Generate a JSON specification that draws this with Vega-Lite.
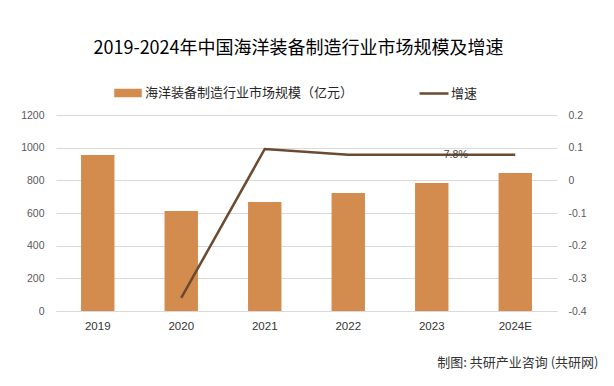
{
  "$schema": "https://vega.github.io/schema/vega-lite/v6.json",
  "width": 501,
  "height": 196,
  "autosize": "none",
  "padding": {"left": 56, "top": 115, "right": 57, "bottom": 75},
  "background": "white",
  "config": {"view": {"stroke": null}, "font": "Liberation Sans"},
  "title": {
    "text": "2019-2024年中国海洋装备制造行业市场规模及增速",
    "font": "Noto Sans CJK SC",
    "fontSize": 18,
    "fontWeight": "normal",
    "color": "#000000",
    "anchor": "middle",
    "dx": -8,
    "offset": 21
  },
  "data": {
    "values": [
      {"year": "2019", "size": 955, "growth": null, "label": null},
      {"year": "2020", "size": 612, "growth": -0.36, "label": null},
      {"year": "2021", "size": 667, "growth": 0.096, "label": null},
      {"year": "2022", "size": 722, "growth": 0.078, "label": null},
      {"year": "2023", "size": 784, "growth": 0.078, "label": "7.8%"},
      {"year": "2024E", "size": 845, "growth": 0.078, "label": null}
    ]
  },
  "layer": [
    {
      "mark": {"type": "bar", "color": "#D38B4E"},
      "encoding": {
        "x": {
          "field": "year", "type": "ordinal", "sort": null,
          "scale": {"paddingInner": 0.6, "paddingOuter": 0.3},
          "axis": {
            "title": "制图: 共研产业咨询 (共研网)",
            "titleFont": "Noto Sans CJK SC", "titleFontSize": 13, "titleFontWeight": "normal",
            "titleColor": "#333333", "titleAnchor": "end", "titleAlign": "right",
            "titleX": 542, "titleY": 51, "titleBaseline": "middle",
            "labelAngle": 0, "labelFont": "Liberation Sans", "labelFontSize": 11.5,
            "labelColor": "#333333", "labelPadding": 9, "ticks": false,
            "domainColor": "#d9d9d9", "grid": false
          }
        },
        "y": {
          "field": "size", "type": "quantitative",
          "scale": {"domain": [0, 1200]},
          "axis": {
            "title": null, "values": [0, 200, 400, 600, 800, 1000, 1200], "format": "d",
            "labelFontSize": 10.5, "labelColor": "#595959", "labelPadding": 12,
            "ticks": false, "domain": false, "gridColor": "#d9d9d9", "gridWidth": 1
          }
        },
        "color": {
          "datum": "海洋装备制造行业市场规模（亿元）", "type": "nominal",
          "scale": {"domain": ["海洋装备制造行业市场规模（亿元）", "增速"], "range": ["#D38B4E", "#6B4A2F"]},
          "legend": {
            "orient": "none", "legendX": 58, "legendY": -36, "direction": "horizontal",
            "title": null, "padding": 0, "columnPadding": 60, "labelLimit": 0,
            "labelFont": "Noto Sans CJK SC", "labelFontSize": 13, "labelColor": "#262626",
            "labelOffset": 3, "symbolSize": 625, "symbolStrokeWidth": 2.5,
            "encode": {
              "symbols": {
                "update": {
                  "shape": {"signal": "datum.value === '增速' ? 'M-1,0H1' : 'M-1,-0.24H1V0.24H-1Z'"},
                  "fill": {"signal": "datum.value === '增速' ? 'transparent' : '#D38B4E'"},
                  "stroke": {"signal": "datum.value === '增速' ? '#6B4A2F' : 'transparent'"},
                  "strokeWidth": {"value": 2.5},
                  "size": {"signal": "datum.value === '增速' ? 841 : 625"}
                }
              }
            }
          }
        }
      }
    },
    {
      "mark": {"type": "line", "strokeWidth": 2.5},
      "encoding": {
        "x": {"field": "year", "type": "ordinal", "sort": null},
        "y": {
          "field": "growth", "type": "quantitative",
          "scale": {"domain": [-0.4, 0.2]},
          "axis": {
            "orient": "right", "title": null,
            "values": [-0.4, -0.3, -0.2, -0.1, 0, 0.1, 0.2],
            "labelExpr": "datum.value == 0 ? '0' : (datum.value < 0 ? '-' : '') + format(abs(datum.value), '.1f')",
            "labelFontSize": 10.5, "labelColor": "#595959", "labelPadding": 11,
            "grid": false, "domain": false, "ticks": false
          }
        },
        "color": {"datum": "增速", "type": "nominal"}
      }
    },
    {
      "transform": [{"filter": "datum.label != null"}],
      "mark": {"type": "text", "dx": 24, "fontSize": 10.5, "color": "#404040", "font": "Liberation Sans"},
      "encoding": {
        "x": {"field": "year", "type": "ordinal", "sort": null},
        "y": {"field": "growth", "type": "quantitative", "scale": {"domain": [-0.4, 0.2]}, "axis": null},
        "text": {"field": "label"}
      }
    }
  ],
  "resolve": {"scale": {"y": "independent"}}
}
